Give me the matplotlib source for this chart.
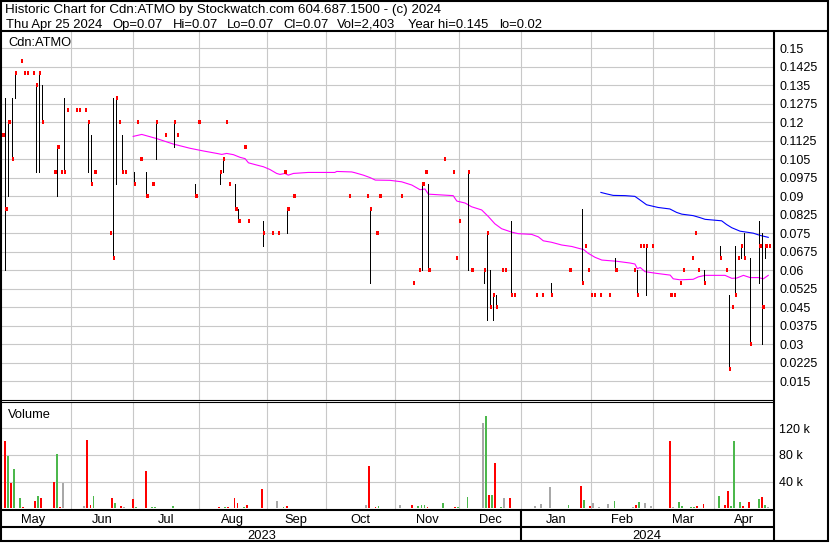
import numpy as np
import matplotlib.pyplot as plt
from matplotlib.lines import Line2D
from matplotlib.transforms import blended_transform_factory

plt.rcParams['font.family'] = ['Liberation Sans', 'DejaVu Sans']
plt.rcParams['font.size'] = 9

# --- data (x = trading-day index, 0 = first day on the chart) ---
day = [0, 1, 2, 3, 4, 6, 7, 8, 10, 11, 12, 13, 17, 18, 19, 20, 21, 24, 25, 27,
       28, 29, 30, 35, 36, 37, 38, 39, 40, 43, 44, 45, 47, 49, 50, 53, 56, 57, 63, 64,
       71, 72, 73, 74, 76, 77, 79, 80, 85, 88, 90, 92, 93, 95, 113, 119, 120, 122, 123, 130,
       134, 136, 137, 138, 139, 144, 147, 148, 149, 152, 153, 157, 158, 159, 160, 161, 163, 164, 166, 167,
       174, 176, 179, 185, 189, 190, 191, 192, 193, 195, 198, 200, 206, 207, 208, 209, 210, 212, 218, 219,
       221, 222, 225, 226, 227, 229, 234, 236, 237, 238, 239, 240, 241, 242, 244, 247, 248, 249, 250]
high = [.115, .13, .12, .13, .14, .145, .14, .14, .14, .135, .14, .135, .10, .11, .10, .13, .125, .125, .125, .125,
        .12, .115, .10, .075, .13, .13, .12, .115, .10, .10, .12, .105, .10, .095, .12, .115, .12, .115, .095, .12,
        .10, .105, .12, .095, .095, .085, .11, .08, .08, .075, .075, .10, .085, .09, .09, .09, .085, .075, .09, .09,
        .055, .06, .095, .10, .095, .105, .10, .065, .08, .10, .06, .06, .075, .06, .05, .05, .06, .06, .08, .05,
        .05, .05, .055, .06, .085, .07, .06, .05, .05, .05, .05, .065, .06, .06, .07, .07, .07, .07, .05, .05,
        .055, .06, .065, .075, .06, .06, .07, .06, .05, .045, .07, .065, .07, .075, .065, .08, .075, .07, .07]
low = [.115, .06, .09, .105, .13, .145, .14, .14, .14, .10, .10, .12, .10, .09, .10, .10, .125, .125, .125, .125,
       .10, .095, .10, .075, .065, .095, .12, .10, .10, .095, .12, .105, .09, .095, .105, .115, .11, .115, .09, .12,
       .095, .10, .12, .095, .085, .08, .11, .08, .07, .075, .075, .10, .075, .09, .09, .09, .055, .075, .09, .09,
       .055, .06, .06, .10, .06, .105, .10, .065, .08, .06, .06, .055, .04, .045, .04, .045, .06, .06, .05, .05,
       .05, .05, .05, .06, .055, .07, .06, .05, .05, .05, .05, .06, .06, .05, .07, .07, .05, .07, .05, .05,
       .055, .06, .065, .075, .06, .055, .065, .06, .02, .045, .05, .065, .065, .065, .03, .055, .03, .065, .07]
close = [.115, .085, .12, .105, .14, .145, .14, .14, .14, .135, .14, .12, .10, .11, .10, .10, .125, .125, .125, .125,
         .12, .095, .10, .075, .065, .13, .12, .10, .10, .095, .12, .105, .09, .095, .12, .115, .12, .115, .09, .12,
         .10, .105, .12, .095, .085, .08, .11, .08, .075, .075, .075, .10, .085, .09, .09, .09, .085, .075, .09, .09,
         .055, .06, .095, .10, .06, .105, .10, .065, .08, .10, .06, .06, .075, .045, .05, .045, .06, .06, .05, .05,
         .05, .05, .05, .06, .055, .07, .06, .05, .05, .05, .05, .06, .06, .05, .07, .07, .07, .07, .05, .05,
         .055, .06, .065, .075, .06, .055, .065, .06, .02, .045, .05, .065, .07, .065, .03, .07, .045, .07, .07]
volume_k = [0, 101, 78.5, 38, 59, 15.5, 2, 0.5, 0.5, 11, 18.5, 15.5, 39.5, 81.5, 2, 38, 0.5, 0.5, 0.5, 3.5,
            102.5, 5, 18.5, 0.5, 15.5, 8, 0.5, 3.5, 2, 14, 2, 0.5, 56, 2, 2, 0.5, 3.5, 0.5, 0.5, 0.5,
            2, 0.5, 2, 2, 15.5, 8, 2, 5, 29, 0.5, 11, 2, 3.5, 0.5, 0.5, 5, 63.5, 2, 3.5, 5,
            5, 3.5, 5, 5, 2, 8, 0.5, 2, 2, 17, 0.5, 128, 138.5, 20, 20, 68, 2, 15.5, 15.5, 0.5,
            3.5, 6.5, 32, 5, 33.5, 12.5, 0.5, 3.5, 8, 2, 6.5, 11, 2, 5, 9.5, 0.5, 8, 3.5, 101, 2,
            9.5, 3.5, 2, 2, 3.5, 6.5, 18.5, 5, 26, 3.5, 101, 0.5, 9.5, 3.5, 9.5, 14, 17, 5, 2.403]

# moving averages
ma_short_x = [42.7, 45.5, 50.4, 55.8, 61.2, 65.6, 70, 71.6, 73.2, 75.4, 77.6, 79.2, 80.3, 83, 85.2, 87.3,
              89.5, 90.6, 92.2, 93.3, 95, 99.8, 108.5, 109.1, 114, 115, 117.8, 120, 121.7, 126.5, 130.3,
              133.6, 136.3, 137.9, 139, 147.1, 148.3, 151, 153.1, 156.4, 158.6, 160.7, 162.9, 166.2, 168.3,
              172.7, 174.9, 176.5, 179.2, 182.5, 185.8, 188.5, 189.6, 191.2, 193.4, 195.6, 200.5, 204.8,
              206.4, 207.2, 208.1, 209.7, 213.5, 217.9, 218.9, 221.1, 225.4, 227.1, 229.3, 235.8, 238,
              239.6, 241.8, 244, 246.7, 248.3, 249.9]
ma_short_y = [.1143, .1151, .1134, .1112, .1095, .1084, .1074, .107, .1074, .1069, .1058, .1053, .1036, .1027,
              .102, .1009, .0993, .0989, .0993, .0986, .0993, .0997, .0997, .1001, .0999, .0996, .0986, .0976,
              .0966, .0965, .0959, .0946, .0927, .093, .0909, .0903, .0881, .0873, .0858, .0845, .0818, .0789,
              .0769, .0755, .0749, .0746, .0736, .072, .0714, .0703, .0697, .0688, .0685, .0669, .0653, .0642,
              .0637, .063, .0626, .0607, .0612, .0595, .0588, .0581, .0566, .0562, .0564, .0574, .058, .058,
              .0568, .0569, .058, .0571, .0571, .0566, .058]
ma_long_x = [195.3, 197.2, 199.3, 203.2, 206.4, 208.1, 210.2, 211.9, 214, 217.8, 220, 221.7, 225.4, 227.6,
             229.3, 232, 234.7, 236.3, 238, 240.7, 242.9, 245, 247.2, 249.9]
ma_long_y = [.0916, .091, .0904, .0903, .09, .0885, .0866, .0861, .0855, .0849, .0835, .0828, .0822, .0814,
             .0807, .0804, .0801, .0786, .0773, .0759, .0755, .0751, .0742, .0734]

month_starts = [22.3, 42.6, 64.1, 86.3, 105.5, 128.0, 149.1, 169.3, 192.0, 212.2, 232.3]
month_names = ['May', 'Jun', 'Jul', 'Aug', 'Sep', 'Oct', 'Nov', 'Dec', 'Jan', 'Feb', 'Mar', 'Apr']
years = ['2023', '2024']
price_ticks = [0.15, 0.1425, 0.135, 0.1275, 0.12, 0.1125, 0.105, 0.0975, 0.09, 0.0825,
               0.075, 0.0675, 0.06, 0.0525, 0.045, 0.0375, 0.03, 0.0225, 0.015]
price_labels = ['0.15', '0.1425', '0.135', '0.1275', '0.12', '0.1125', '0.105', '0.0975', '0.09', '0.0825',
                '0.075', '0.0675', '0.06', '0.0525', '0.045', '0.0375', '0.03', '0.0225', '0.015']
vol_ticks = [40000, 80000, 120000]
vol_labels = ['40 k', '80 k', '120 k']

W, H = 830, 543
GRID = '#c8c8c8'
X0, X1 = -0.1, 251.45


def fx(px):
    return px / W


def fy(py):
    return 1 - py / H


fig = plt.figure(figsize=(W / 100, H / 100), dpi=100)

ax = fig.add_axes([fx(2), fy(400), (773 - 2) / W, (400 - 32) / H])
axv = fig.add_axes([fx(2), fy(509.5), (773 - 2) / W, (509.5 - 402) / H])

d = np.array(day, dtype=float)
c = np.array(close)

# price panel
ax.vlines(d, low, high, colors='black', lw=0.7, antialiased=False, zorder=3)
ax.hlines(c, d, d + 0.75, colors='#ff0000', lw=1.6, antialiased=False, zorder=4)
ax.plot(ma_short_x, ma_short_y, color='#ff00ff', lw=0.8, zorder=2)
ax.plot(ma_long_x, ma_long_y, color='#0000ff', lw=0.8, zorder=2)
ax.set_xlim(X0, X1)
ax.set_ylim(0.0075, 0.1566)
ax.set_xticks(month_starts)
ax.set_xticklabels([])
ax.set_yticks(price_ticks)
ax.set_yticklabels(price_labels)
ax.yaxis.tick_right()
ax.tick_params(axis='both', length=0)
ax.tick_params(axis='y', pad=4.5)
ax.grid(True, color=GRID, lw=0.8)
ax.set_axisbelow(True)
for s in ax.spines.values():
    s.set_visible(False)
fig.text(fx(8), fy(46), 'Cdn:ATMO', va='baseline', fontsize=9.3)

# volume panel
prev = np.concatenate([[c[0]], c[:-1]])
vcol = np.where(c > prev, '#4cb84c', np.where(c < prev, '#ff0000', '#a8a8a8'))
axv.bar(d - 0.25, np.array(volume_k) * 1000, width=0.6, color=vcol, zorder=3)
axv.set_xlim(X0, X1)
axv.set_ylim(-1800, 159450)
axv.set_xticks(month_starts)
axv.set_xticklabels([])
axv.set_yticks(vol_ticks)
axv.set_yticklabels(vol_labels)
axv.yaxis.tick_right()
axv.tick_params(axis='both', length=0)
axv.tick_params(axis='y', pad=4.5)
axv.grid(True, color=GRID, lw=0.8)
axv.set_axisbelow(True)
for s in axv.spines.values():
    s.set_visible(False)
fig.text(fx(8), fy(417.5), 'Volume', va='baseline', fontsize=9.3)

# month and year labels along the date axis
tr = blended_transform_factory(axv.transData, fig.transFigure)
bounds = [X0] + month_starts + [X1]
centers = [10] + [(bounds[i] + bounds[i + 1]) / 2 for i in range(1, len(bounds) - 1)]
for xm, name in zip(centers, month_names):
    axv.text(xm, fy(523), name, transform=tr, ha='center', va='baseline', fontsize=9.3)
axv.text((X0 + month_starts[7]) / 2, fy(539), years[0], transform=tr, ha='center', va='baseline',
         fontsize=9.3)
axv.text((month_starts[7] + X1) / 2, fy(539), years[1], transform=tr, ha='center', va='baseline',
         fontsize=9.3)
axv.plot([month_starts[7], month_starts[7]], [fy(510), fy(541)], transform=tr, color='black',
         lw=1.5, clip_on=False, solid_capstyle='butt')

# header
fig.text(fx(5), fy(13.3), 'Historic Chart for Cdn:ATMO by Stockwatch.com 604.687.1500 - (c) 2024',
         va='baseline', fontsize=9.6)
header2 = [(6, 'Thu Apr 25 2024'), (112.7, 'Op=0.07'), (172.7, 'Hi=0.07'), (226.7, 'Lo=0.07'),
           (283.3, 'Cl=0.07'), (337.3, 'Vol=2,403'), (407.7, 'Year hi=0.145'), (499, 'lo=0.02')]
for xp, s in header2:
    fig.text(fx(xp), fy(27.7), s, va='baseline', fontsize=9.4)


# frame lines (pixel coordinates)
def hline(y, x0, x1, lw=1.5):
    fig.add_artist(Line2D([fx(x0), fx(x1)], [fy(y), fy(y)], color='black', lw=lw,
                          solid_capstyle='butt'))


def vline(x, y0, y1, lw=1.5):
    fig.add_artist(Line2D([fx(x), fx(x)], [fy(y0), fy(y1)], color='black', lw=lw,
                          solid_capstyle='butt'))


hline(1, 0, 829)
hline(541, 0, 829)
vline(1, 0, 542)
vline(828, 0, 542)
hline(31, 0, 829)
vline(773.5, 31, 542)
hline(400, 0, 774, lw=0.8)
hline(402, 0, 774, lw=0.8)
hline(510, 0, 774)
hline(527, 0, 774)

fig.savefig('out.png', dpi=100)
